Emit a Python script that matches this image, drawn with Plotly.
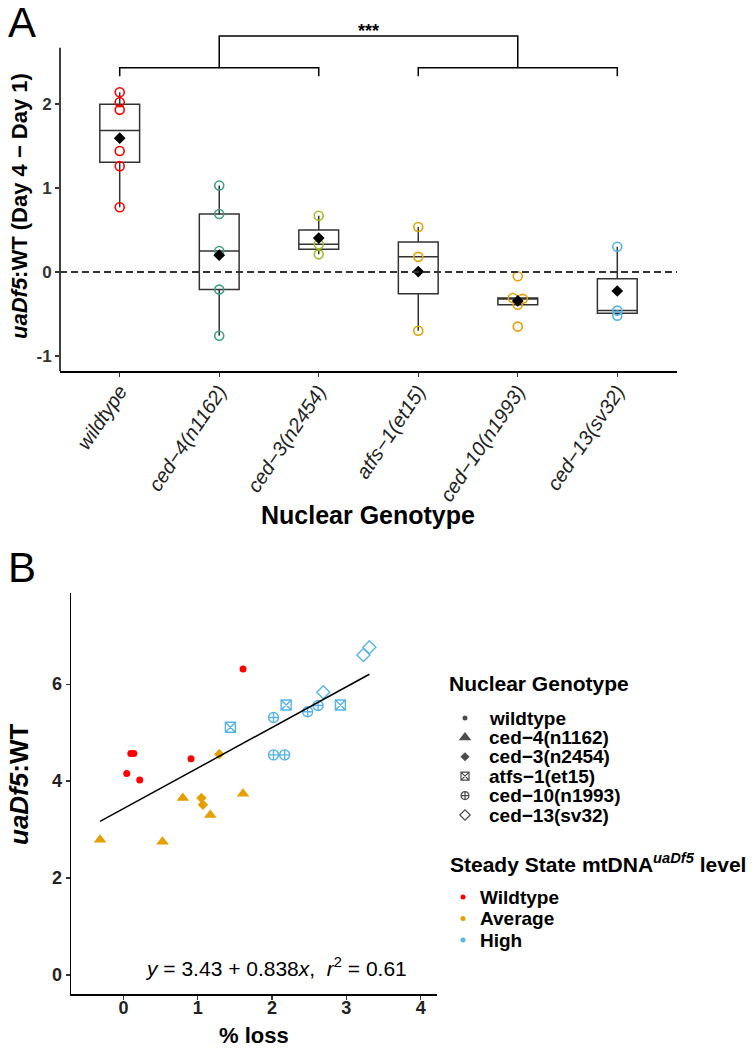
import numpy as np
import plotly.graph_objects as go

W, H = 753, 1049
FONT = "Liberation Sans, Arial, sans-serif"

# ---------------- Panel A data ----------------
genotypes = ["wildtype", "ced−4(n1162)", "ced−3(n2454)", "atfs−1(et15)",
             "ced−10(n1993)", "ced−13(sv32)"]
delta_wildtype = [2.14, 2.02, 1.93, 1.44, 1.26, 0.77]
delta_ced4 = [1.03, 0.69, 0.25, -0.21, -0.76]
delta_ced3 = [0.67, 0.33, 0.21]
delta_atfs1 = [0.535, 0.18, -0.70]
delta_ced10 = [-0.05, -0.31, -0.32, -0.39, -0.65]
delta_ced13 = [0.30, -0.46, -0.52]
genotype_colors = ["#FF0000", "#3E9F86", "#A3BC2A", "#E69F00", "#E69F00", "#56B4E9"]
y_ticks_A = [-1, 0, 1, 2]
y_ticklabels_A = ["-1", "0", "1", "2"]

# ---------------- Panel B data ----------------
loss_wildtype = [0.045, 0.10, 0.14, 0.22, 0.91, 1.61]
ratio_wildtype = [4.155, 4.57, 4.57, 4.02, 4.46, 6.31]
loss_ced4 = [-0.314, 0.526, 0.80, 1.17, 1.61]
ratio_ced4 = [2.79, 2.75, 3.65, 3.30, 3.74]
loss_ced3 = [1.29, 1.05, 1.07]
ratio_ced3 = [4.555, 3.65, 3.51]
loss_atfs1 = [1.44, 2.19, 2.92]
ratio_atfs1 = [5.11, 5.57, 5.57]
loss_ced10 = [2.02, 2.02, 2.17, 2.48, 2.62]
ratio_ced10 = [5.31, 4.54, 4.54, 5.43, 5.56]
loss_ced13 = [2.69, 3.23, 3.31]
ratio_ced13 = [5.83, 6.60, 6.76]
level_names = ["Wildtype", "Average", "High"]
level_colors = ["#FF0000", "#E69F00", "#56B4E9"]
genotype_level = [0, 1, 1, 2, 2, 2]
fit_intercept = 3.43
fit_slope = 0.838
fit_r2 = 0.61

# ---------------- styles ----------------
symbols_B = ["circle", "triangle-up", "diamond", "square-x-open", "circle-cross-open", "diamond-open"]
sizes_B = [7, 11, 8, 10, 10, 10]
linew_B = [0, 0, 0, 1.4, 1.4, 1.4]
legend_sizes = [5, 11, 7, 8, 8, 8]
ced10_dodge = [0, -0.05, 0.05, 0, 0]

groups_A = [delta_wildtype, delta_ced4, delta_ced3, delta_atfs1, delta_ced10, delta_ced13]
groups_B = [(loss_wildtype, ratio_wildtype), (loss_ced4, ratio_ced4), (loss_ced3, ratio_ced3),
            (loss_atfs1, ratio_atfs1), (loss_ced10, ratio_ced10), (loss_ced13, ratio_ced13)]
pos = np.arange(1, len(genotypes) + 1)

# tick-label standoff (negative pulls labels toward the axis, if supported)
try:
    go.layout.XAxis(ticklabelstandoff=-7)
    STANDOFF_A, STANDOFF_B = -5, -7
except Exception:
    STANDOFF_A, STANDOFF_B = 0, 0

fig = go.Figure()

# box statistics (ggplot-style: type-7 quantiles, whiskers to 1.5 IQR)
q1s, meds, q3s, lfs, ufs, means = [], [], [], [], [], []
for vals in groups_A:
    v = np.asarray(vals, dtype=float)
    q1, med, q3 = np.percentile(v, [25, 50, 75])
    iqr = q3 - q1
    q1s.append(q1); meds.append(med); q3s.append(q3)
    lfs.append(v[v >= q1 - 1.5 * iqr].min())
    ufs.append(v[v <= q3 + 1.5 * iqr].max())
    means.append(v.mean())

fig.add_trace(go.Box(x=pos, q1=q1s, median=meds, q3=q3s, lowerfence=lfs, upperfence=ufs,
                     width=0.4, whiskerwidth=0, fillcolor="white",
                     line=dict(color="#333333", width=1.5), boxpoints=False,
                     showlegend=False, hoverinfo="skip", xaxis="x", yaxis="y"))

for i, vals in enumerate(groups_A):
    dodge = ced10_dodge if i == 4 else [0] * len(vals)
    fig.add_trace(go.Scatter(x=[pos[i] + d for d in dodge], y=vals, mode="markers",
                             marker=dict(symbol="circle-open", size=9, color=genotype_colors[i],
                                         line=dict(width=1.6, color=genotype_colors[i])),
                             showlegend=False, xaxis="x", yaxis="y"))

fig.add_trace(go.Scatter(x=pos, y=means, mode="markers",
                         marker=dict(symbol="diamond", size=9, color="black"),
                         showlegend=False, xaxis="x", yaxis="y"))

# significance brackets
br_low, br_tip, br_top = 2.43, 2.33, 2.81
for a, b in [(1, 3), (4, 6)]:
    fig.add_trace(go.Scatter(x=[a, a, b, b], y=[br_tip, br_low, br_low, br_tip], mode="lines",
                             line=dict(color="black", width=1.5), showlegend=False,
                             hoverinfo="skip", xaxis="x", yaxis="y"))
fig.add_trace(go.Scatter(x=[2, 2, 5, 5], y=[br_low, br_top, br_top, br_low], mode="lines",
                         line=dict(color="black", width=1.5), showlegend=False,
                         hoverinfo="skip", xaxis="x", yaxis="y"))

# ---------------- Panel B ----------------
for i, (lx, ry) in enumerate(groups_B):
    c = level_colors[genotype_level[i]]
    fig.add_trace(go.Scatter(x=lx, y=ry, mode="markers",
                             marker=dict(symbol=symbols_B[i], size=sizes_B[i], color=c,
                                         line=dict(width=linew_B[i], color=c)),
                             showlegend=False, xaxis="x2", yaxis="y2"))

all_loss = np.concatenate([np.asarray(g[0]) for g in groups_B])
fx = np.array([all_loss.min(), all_loss.max()])
fig.add_trace(go.Scatter(x=fx, y=fit_intercept + fit_slope * fx, mode="lines",
                         line=dict(color="black", width=1.5), showlegend=False,
                         xaxis="x2", yaxis="y2"))

# ---------------- custom legends (pixel overlay axis) ----------------
leg1_title = (447, 683)
leg1_y0, leg1_dy, leg1_sx, leg1_tx = 718, 19.4, 465, 487
leg2_title = (448, 863)
leg2_y0, leg2_dy, leg2_sx, leg2_tx = 897, 21.5, 463, 478

fig.add_trace(go.Scatter(x=[leg1_sx] * 6, y=[leg1_y0 + k * leg1_dy for k in range(6)],
                         mode="markers",
                         marker=dict(symbol=symbols_B, size=legend_sizes, color="black",
                                     line=dict(width=[0, 0, 0, 1.2, 1.2, 1.2], color="black")),
                         showlegend=False, hoverinfo="skip", xaxis="x3", yaxis="y3"))
fig.add_trace(go.Scatter(x=[leg2_sx] * 3, y=[leg2_y0 + k * leg2_dy for k in range(3)],
                         mode="markers", marker=dict(symbol="circle", size=5, color=level_colors),
                         showlegend=False, hoverinfo="skip", xaxis="x3", yaxis="y3"))

ann = []
def A(text, x, y, size, xref="paper", yref="paper", xanchor="center", yanchor="middle",
      angle=0, color="black"):
    ann.append(dict(text=text, x=x, y=y, xref=xref, yref=yref, xanchor=xanchor,
                    yanchor=yanchor, textangle=angle, showarrow=False,
                    font=dict(family=FONT, size=size, color=color)))

A("<b>Nuclear Genotype</b>", leg1_title[0], leg1_title[1], 21, "x3", "y3", xanchor="left")
for k, g in enumerate(genotypes):
    A("<b>" + g + "</b>", leg1_tx, leg1_y0 + k * leg1_dy, 19, "x3", "y3", xanchor="left")
A("<b>Steady State mtDNA<sup><i>uaDf5</i></sup> level</b>", leg2_title[0], leg2_title[1], 21,
  "x3", "y3", xanchor="left")
for k, nm in enumerate(level_names):
    A("<b>" + nm + "</b>", leg2_tx, leg2_y0 + k * leg2_dy, 19, "x3", "y3", xanchor="left")

# panel labels & titles
A("A", 6 / W, 1 - 22 / H, 42, xanchor="left")
A("B", 6 / W, 1 - 567 / H, 42, xanchor="left")
A("<b><i>uaDf5</i>:WT (Day 4 − Day 1)</b>", 19 / W, 1 - 206 / H, 22, angle=-90)
A("<b>Nuclear Genotype</b>", 368 / W, 1 - 515 / H, 25)
A("<b><i>uaDf5</i>:WT</b>", 19 / W, 1 - 785 / H, 26, angle=-90)
A("<b>% loss</b>", 254 / W, 1 - 1035 / H, 22)
A("<b>***</b>", 3.5, 2.87, 18, "x", "y")
A("<i>y</i> = %.2f + %.3f<i>x</i>,  <i>r</i><sup>2</sup> = %.2f" % (fit_intercept, fit_slope, fit_r2),
  2.06, 0.16, 21, "x2", "y2")

axis_common = dict(showgrid=False, zeroline=False, ticks="outside", ticklen=4, tickwidth=1.2,
                   tickcolor="#333333", linecolor="black", linewidth=1.5)

fig.update_layout(
    width=W, height=H, autosize=False,
    margin=dict(l=0, r=0, t=0, b=0),
    paper_bgcolor="white", plot_bgcolor="rgba(0,0,0,0)",
    showlegend=False,
    annotations=ann,
    xaxis=dict(domain=[60 / W, 677 / W], range=[0.4, 6.6], tickvals=list(pos), ticktext=genotypes,
               tickangle=-56, showline=True, anchor="y", ticklabelstandoff=STANDOFF_A,
               tickfont=dict(family=FONT, size=20, color="#222222", style="italic"),
               **axis_common),
    yaxis=dict(domain=[1 - 371.1 / H, 1 - 22.5 / H], range=[-1.18, 2.97], showline=False,
               tickvals=y_ticks_A, ticktext=y_ticklabels_A, anchor="x",
               tickfont=dict(family=FONT, size=17, color="#333333", weight="bold"),
               **axis_common),
    xaxis2=dict(domain=[71 / W, 437 / W], range=[-0.705, 4.22], dtick=1, showline=True,
                anchor="y2", ticklabelstandoff=STANDOFF_B,
                tickfont=dict(family=FONT, size=18, color="#222222", weight="bold"),
                **axis_common),
    yaxis2=dict(domain=[1 - 994.3 / H, 1 - 593 / H], range=[-0.40, 7.88], dtick=2, showline=True,
                anchor="x2", tickfont=dict(family=FONT, size=18, color="#222222", weight="bold"),
                **axis_common),
    xaxis3=dict(domain=[0, 1], range=[0, W], visible=False, fixedrange=True, anchor="y3"),
    yaxis3=dict(domain=[0, 1], range=[H, 0], visible=False, fixedrange=True, anchor="x3"),
    shapes=[
        dict(type="line", xref="x domain", x0=0, x1=0, yref="y", y0=-1.18, y1=2.67,
             line=dict(color="black", width=1.5)),
        dict(type="line", xref="x domain", x0=0, x1=1, yref="y", y0=0, y1=0,
             line=dict(color="#333333", width=2, dash="7px,4px")),
    ],
)

fig.write_html("out.html",
               config={"displayModeBar": False, "staticPlot": True},
               post_script="document.body.style.margin='0';document.body.style.padding='0';"
                           "document.documentElement.style.overflow='hidden';")
